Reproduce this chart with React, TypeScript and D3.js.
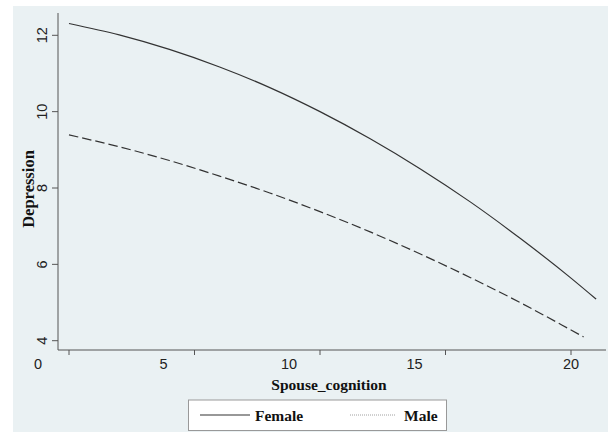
import React from "react";
import * as d3 from "d3";

const xTicks = [0, 5, 10, 15, 20];
const yTicks = [4, 6, 8, 10, 12];

const femaleX = [0, 2, 4, 6, 8, 10, 12, 14, 16, 18, 20, 21];
const femaleY = [12.31, 12.01, 11.63, 11.17, 10.63, 10.0, 9.29, 8.5, 7.63, 6.67, 5.64, 5.09];

const maleX = [0, 2, 4, 6, 8, 10, 12, 14, 16, 18, 20, 20.5];
const maleY = [9.39, 9.08, 8.72, 8.31, 7.87, 7.38, 6.85, 6.27, 5.65, 4.99, 4.28, 4.1];

const seriesNames = ["Female", "Male"];

const W = 608;
const H = 432;

export default function App() {
  const x = d3.scaleLinear().domain([0, 20]).range([69, 571]);
  const y = d3.scaleLinear().domain([4, 12]).range([340.7, 35.3]);

  const line = d3
    .line<[number, number]>()
    .x((d) => x(d[0]))
    .y((d) => y(d[1]))
    .curve(d3.curveMonotoneX);

  const female = femaleX.map((v, i) => [v, femaleY[i]] as [number, number]);
  const male = maleX.map((v, i) => [v, maleY[i]] as [number, number]);

  const axisColor = "#555";
  const textColor = "#222";
  const serif = "'Liberation Serif', 'Times New Roman', serif";
  const sans = "'Liberation Sans', Arial, sans-serif";

  const axisBottom = 350;
  const axisLeft = 58;

  return (
    <svg
      width={W}
      height={H}
      style={{ position: "absolute", left: 0, top: 0, background: "#fff" }}
    >
      <rect x={13} y={6} width={W - 13} height={H - 6} fill="#eaf1f3" />

      {/* curves */}
      <path d={line(female) || ""} fill="none" stroke="#333" strokeWidth={1.2} />
      <path
        d={line(male) || ""}
        fill="none"
        stroke="#333"
        strokeWidth={1.2}
        strokeDasharray="9.5,4"
      />

      {/* y axis */}
      <line x1={axisLeft} x2={axisLeft} y1={13} y2={axisBottom} stroke={axisColor} strokeWidth={1} />
      {yTicks.map((t) => (
        <g key={"y" + t}>
          <line x1={axisLeft - 6} x2={axisLeft} y1={y(t)} y2={y(t)} stroke={axisColor} />
          <text
            transform={`translate(47,${y(t)}) rotate(-90)`}
            textAnchor="middle"
            fontFamily={sans}
            fontSize={14.5}
            fill={textColor}
          >
            {t}
          </text>
        </g>
      ))}

      {/* x axis */}
      <line x1={axisLeft} x2={606} y1={axisBottom} y2={axisBottom} stroke={axisColor} strokeWidth={1} />
      {xTicks.map((t) => (
        <g key={"x" + t}>
          <line x1={x(t)} x2={x(t)} y1={axisBottom} y2={axisBottom + 5} stroke={axisColor} />
          <text
            x={t < 20 ? x(t) - 31 : x(t)}
            y={368.5}
            textAnchor="middle"
            fontFamily={sans}
            fontSize={14.5}
            fill={textColor}
          >
            {t}
          </text>
        </g>
      ))}

      {/* titles */}
      <text
        x={329}
        y={390}
        textAnchor="middle"
        fontFamily={serif}
        fontWeight="bold"
        fontSize={15.5}
        fill="#111"
      >
        Spouse_cognition
      </text>
      <text
        transform={`translate(34,189) rotate(-90)`}
        textAnchor="middle"
        fontFamily={serif}
        fontWeight="bold"
        fontSize={16.5}
        fill="#111"
      >
        Depression
      </text>

      {/* legend */}
      <rect x={188.5} y={400} width={258} height={30.5} fill="#fff" stroke="#999" strokeWidth={1} />
      <line x1={200} x2={250} y1={415} y2={415} stroke="#333" strokeWidth={1.2} />
      <text x={255} y={420.5} fontFamily={serif} fontWeight="bold" fontSize={15.5} fill="#111">
        {seriesNames[0]}
      </text>
      <line
        x1={350}
        x2={395}
        y1={415}
        y2={415}
        stroke="#888"
        strokeWidth={0.8}
        strokeDasharray="1,1"
      />
      <text x={404} y={420.5} fontFamily={serif} fontWeight="bold" fontSize={15.5} fill="#111">
        {seriesNames[1]}
      </text>
    </svg>
  );
}
